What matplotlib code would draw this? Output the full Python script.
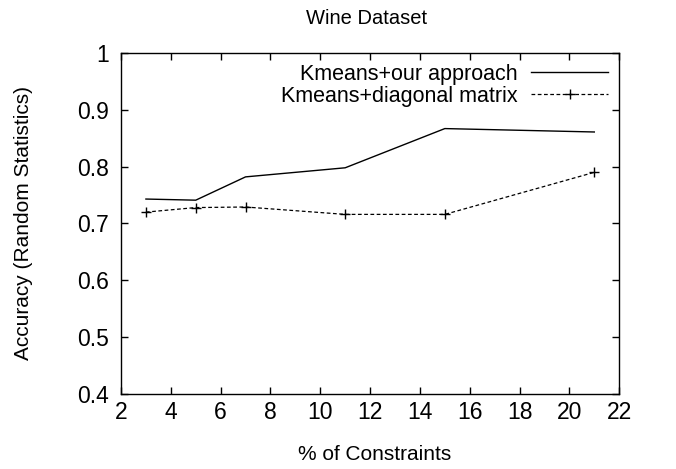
import matplotlib
matplotlib.use("Agg")
import matplotlib.pyplot as plt

plt.rcParams['font.family'] = ['Liberation Sans', 'DejaVu Sans']

# % of constraints used
constraints = [3, 5, 7, 11, 15, 21]
# accuracy (random statistics) for each method
acc_ours = [0.743, 0.741, 0.782, 0.798, 0.867, 0.861]
acc_diag = [0.720, 0.728, 0.729, 0.716, 0.716, 0.790]

fig = plt.figure(figsize=(6.76, 4.69), dpi=100)
ax = fig.add_axes([0.179, 0.160, 0.737, 0.727])

ax.plot(constraints, acc_ours, color='black', lw=1.0, label='Kmeans+our approach')
ax.plot(constraints, acc_diag, color='black', lw=0.9, ls=(0, (3, 2)),
        marker='+', ms=7, mew=1.0, label='Kmeans+diagonal matrix')

ax.set_xlim(2, 22)
ax.set_ylim(0.4, 1.0)
ax.set_xticks(range(2, 23, 2))
ax.set_yticks([0.4, 0.5, 0.6, 0.7, 0.8, 0.9, 1.0])
ax.set_yticklabels(['0.4', '0.5', '0.6', '0.7', '0.8', '0.9', '1'])
ax.tick_params(direction='in', top=True, right=True, length=5, width=1,
               labelsize=16.5)
ax.tick_params(axis='x', pad=5)
ax.tick_params(axis='y', pad=9)
for s in ax.spines.values():
    s.set_linewidth(1.0)

ax.text(0.492, 1.10, 'Wine Dataset', transform=ax.transAxes,
        ha='center', va='center', fontsize=14.5)
ax.set_xlabel('% of Constraints', fontsize=15)
ax.set_ylabel('Accuracy (Random Statistics)', fontsize=15)
ax.xaxis.set_label_coords(0.51, -0.179)
ax.xaxis.label.set_va('center')
ax.yaxis.set_label_coords(-0.196, 0.5)
ax.yaxis.label.set_va('center')

ax.legend(loc='upper right', frameon=False, markerfirst=False, numpoints=1,
          fontsize=15.5, handlelength=3.6, handletextpad=0.6,
          labelspacing=0.05, borderaxespad=0.1)

fig.savefig('out.png', dpi=100)
